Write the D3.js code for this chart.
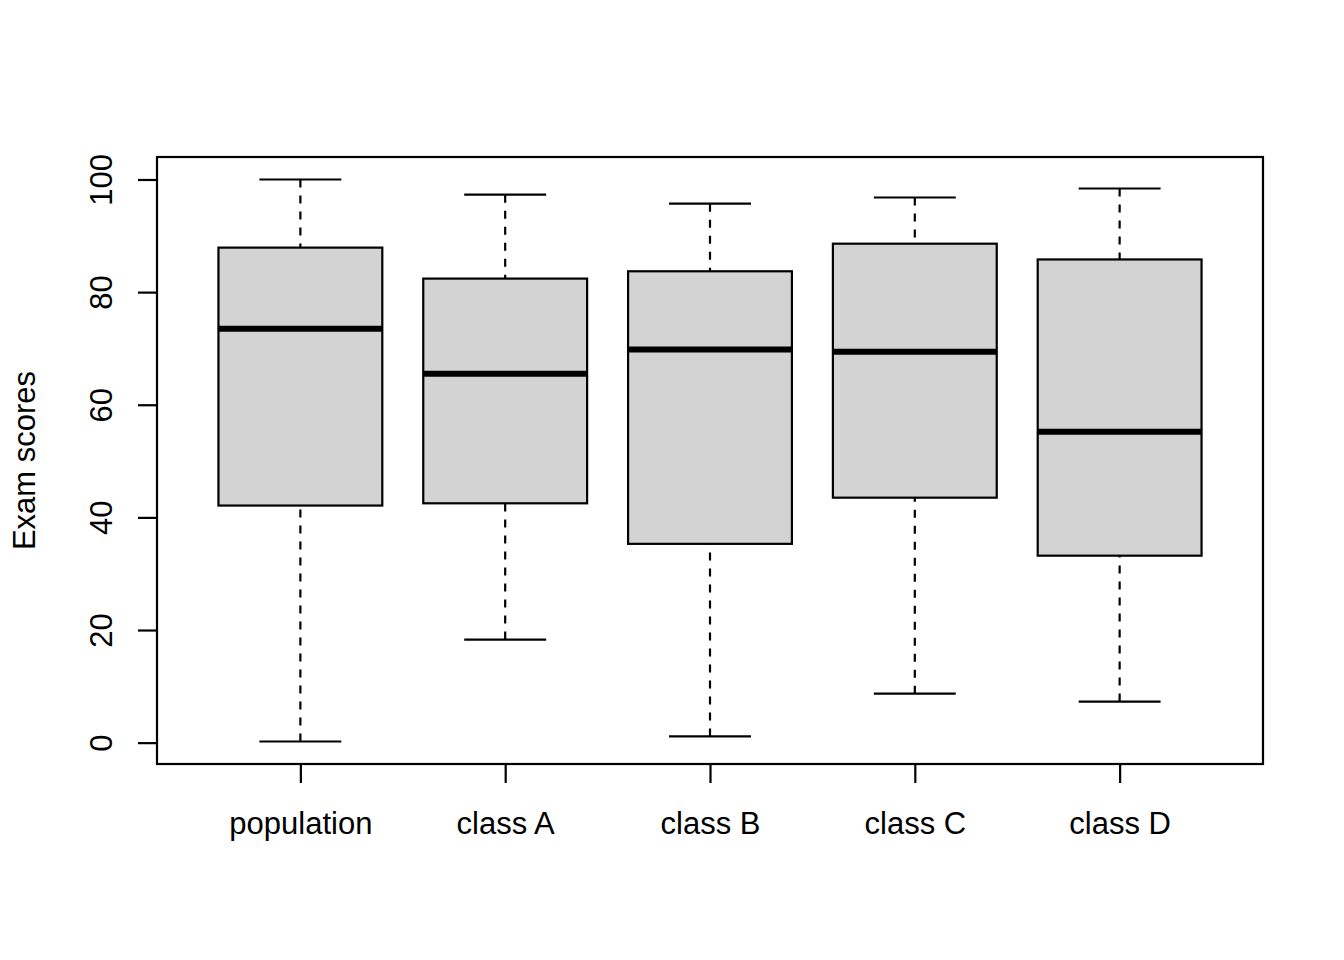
<!DOCTYPE html>
<html>
<head>
<meta charset="utf-8">
<script src="https://cdn.jsdelivr.net/npm/d3@7"></script>
<style>
  body { margin: 0; background: #fff; }
  text { font-family: 'Liberation Sans', Arial, sans-serif; fill: #000; }
</style>
</head>
<body>
<div id="chart"></div>
<script>
const categories = ['population', 'class A', 'class B', 'class C', 'class D']
const whiskerLow = [0.2, 18.3, 1.1, 8.7, 7.3]
const q1 = [42.1, 42.5, 35.3, 43.5, 33.2]
const median = [73.5, 65.5, 69.8, 69.4, 55.2]
const q3 = [87.9, 82.4, 83.7, 88.6, 85.8]
const whiskerHigh = [100, 97.3, 95.7, 96.8, 98.4]
const yTicks = [0, 20, 40, 60, 80, 100]

const W = 1344
const H = 960
const margin = { top: 157, left: 157, right: 81, bottom: 196 }
const width = W - margin.left - margin.right
const height = H - margin.top - margin.bottom

const svg = d3
  .select('#chart')
  .append('svg')
  .attr('width', W)
  .attr('height', H)

const g = svg
  .append('g')
  .attr('transform', 'translate(' + margin.left + ',' + margin.top + ')')

// R style: 4% extension of range
const n = categories.length
const xPositionScale = d3
  .scaleLinear()
  .domain([0.5 - 0.04 * n, n + 0.5 + 0.04 * n])
  .range([0, width])

const yMin = d3.min(whiskerLow)
const yMax = d3.max(whiskerHigh)
const ext = (yMax - yMin) * 0.04
const yPositionScale = d3
  .scaleLinear()
  .domain([yMin - ext, yMax + ext])
  .range([height, 0])

const step = xPositionScale(2) - xPositionScale(1)
const boxW = step * 0.8
const capW = boxW * 0.5
const lw = 2.2

const data = categories.map((c, i) => ({
  name: c,
  pos: i + 1,
  lo: whiskerLow[i],
  q1: q1[i],
  med: median[i],
  q3: q3[i],
  hi: whiskerHigh[i]
}))

const boxes = g
  .selectAll('.box')
  .data(data)
  .enter()
  .append('g')
  .attr('class', 'box')

// whiskers
;[['lo', 'q1'], ['hi', 'q3']].forEach(([a, b]) => {
  boxes
    .append('line')
    .attr('x1', d => xPositionScale(d.pos))
    .attr('x2', d => xPositionScale(d.pos))
    .attr('y1', d => yPositionScale(d[a]))
    .attr('y2', d => yPositionScale(d[b]))
    .attr('stroke', '#000')
    .attr('stroke-width', lw)
    .attr('stroke-dasharray', '8,8')
})

// caps
;['lo', 'hi'].forEach(k => {
  boxes
    .append('line')
    .attr('x1', d => xPositionScale(d.pos) - capW / 2)
    .attr('x2', d => xPositionScale(d.pos) + capW / 2)
    .attr('y1', d => yPositionScale(d[k]))
    .attr('y2', d => yPositionScale(d[k]))
    .attr('stroke', '#000')
    .attr('stroke-width', lw)
})

// boxes
boxes
  .append('rect')
  .attr('x', d => xPositionScale(d.pos) - boxW / 2)
  .attr('width', boxW)
  .attr('y', d => yPositionScale(d.q3))
  .attr('height', d => yPositionScale(d.q1) - yPositionScale(d.q3))
  .attr('fill', '#d3d3d3')
  .attr('stroke', '#000')
  .attr('stroke-width', lw)

// medians
boxes
  .append('line')
  .attr('x1', d => xPositionScale(d.pos) - boxW / 2)
  .attr('x2', d => xPositionScale(d.pos) + boxW / 2)
  .attr('y1', d => yPositionScale(d.med))
  .attr('y2', d => yPositionScale(d.med))
  .attr('stroke', '#000')
  .attr('stroke-width', 6)

// plot frame
g.append('rect')
  .attr('x', 0)
  .attr('y', 0)
  .attr('width', width)
  .attr('height', height)
  .attr('fill', 'none')
  .attr('stroke', '#000')
  .attr('stroke-width', lw)

// axes
const xAxis = d3
  .axisBottom(xPositionScale)
  .tickValues(data.map(d => d.pos))
  .tickFormat((d, i) => categories[i])
  .tickSize(19)
const xg = g
  .append('g')
  .attr('class', 'axis x-axis')
  .attr('transform', 'translate(0,' + height + ')')
  .call(xAxis)
xg.select('.domain').remove()
xg.selectAll('line').attr('stroke-width', lw)
xg.selectAll('text')
  .attr('font-size', 31)
  .attr('font-family', "'Liberation Sans', Arial, sans-serif")
  .attr('dy', null)
  .attr('y', 834 - 764)

const yAxis = d3
  .axisLeft(yPositionScale)
  .tickValues(yTicks)
  .tickSize(19)
const yg = g
  .append('g')
  .attr('class', 'axis y-axis')
  .call(yAxis)
yg.select('.domain').remove()
yg.selectAll('line').attr('stroke-width', lw)
yg.selectAll('text')
  .attr('font-size', 31)
  .attr('font-family', "'Liberation Sans', Arial, sans-serif")
  .attr('text-anchor', 'middle')
  .attr('dy', null)
  .attr('x', null)
  .attr('transform', 'translate(' + (112 - margin.left) + ',0) rotate(-90)')

// y label
svg
  .append('text')
  .attr('transform', 'translate(35,' + (margin.top + height / 2) + ') rotate(-90)')
  .attr('text-anchor', 'middle')
  .attr('font-size', 31)
  .text('Exam scores')
</script>
</body>
</html>
